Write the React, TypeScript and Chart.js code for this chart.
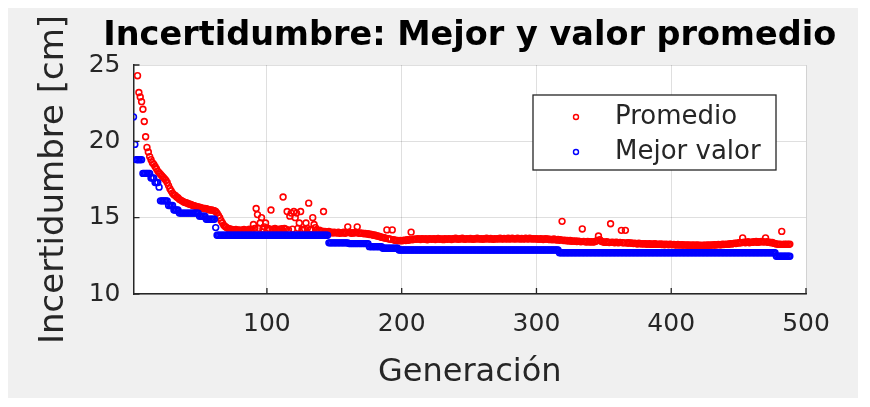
import React, { useEffect, useRef } from 'react';
import { Chart, registerables } from 'chart.js';

Chart.register(...registerables);

const chartTitle = 'Incertidumbre: Mejor y valor promedio';
const xAxisTitle = 'Generación';
const yAxisTitle = 'Incertidumbre [cm]';
const seriesNames = ['Promedio', 'Mejor valor'];
const seriesColors = ['#ff0000', '#0000ff'];
const xTicks = [100, 200, 300, 400, 500];
const yTicks = [10, 15, 20, 25];

// Promedio per generation (index 0 = generation 1); first values are above the axis limit
const promedio = [
  null, null, null, 24.3, 23.2, 22.9, 22.6, 22.1, 21.3, 20.3,
  19.6, 19.3, 19.0, 18.8, 18.6, 18.5, 18.35, 18.2, 18.05, 17.95,
  17.85, 17.75, 17.65, 17.55, 17.45, 17.3, 17.1, 16.9, 16.75, 16.6,
  16.5, 16.45, 16.35, 16.3, 16.2, 16.15, 16.1, 16.05, 16.0, 15.98,
  15.95, 15.9, 15.88, 15.85, 15.8, 15.78, 15.75, 15.72, 15.7, 15.68,
  15.65, 15.62, 15.6, 15.6, 15.58, 15.55, 15.52, 15.5, 15.5, 15.48,
  15.45, 15.4, 15.3, 15.15, 15.0, 14.8, 14.65, 14.5, 14.42, 14.36,
  14.3, 14.28, 14.25, 14.22, 14.2, 14.18, 14.22, 14.15, 14.2, 14.18,
  14.15, 14.2, 14.22, 14.18, 14.15, 14.2, 14.25, 14.18, 14.22, 14.55,
  14.3, 15.6, 15.2, 14.3, 14.65, 15.0, 14.25, 14.4, 14.65, 14.2,
  14.3, 14.22, 15.5, 14.25, 14.2, 14.3, 14.22, 14.18, 14.25, 14.2,
  14.28, 16.35, 14.3, 14.25, 15.4, 14.2, 15.1, 15.3, 14.25, 15.4,
  15.0, 15.3, 14.3, 14.65, 15.4, 14.22, 14.2, 14.25, 14.65, 14.3,
  15.95, 14.2, 14.25, 15.0, 14.55, 14.35, 14.2, 14.15, 14.18, 14.1,
  14.12, 15.4, 14.1, 14.08, 14.05, 14.1, 14.02, 14.05, 14.0, 14.05,
  14.02, 14.0, 14.05, 13.98, 14.02, 14.0, 14.05, 13.98, 14.02, 14.4,
  14.05, 14.0, 13.98, 14.02, 14.0, 14.05, 14.4, 13.98, 14.0, 13.97,
  13.98, 13.95, 13.97, 13.93, 13.95, 13.9, 13.92, 13.88, 13.85, 13.86,
  13.82, 13.8, 13.78, 13.75, 13.72, 13.7, 13.68, 13.65, 14.2, 13.62,
  13.6, 13.58, 14.2, 13.55, 13.52, 13.5, 13.5, 13.48, 13.5, 13.48,
  13.5, 13.52, 13.5, 13.55, 13.52, 13.55, 14.05, 13.55, 13.58, 13.6,
  13.58, 13.62, 13.6, 13.57, 13.63, 13.6, 13.58, 13.62, 13.55, 13.6,
  13.63, 13.58, 13.6, 13.62, 13.57, 13.6, 13.64, 13.58, 13.61, 13.6,
  13.56, 13.62, 13.6, 13.58, 13.63, 13.6, 13.57, 13.62, 13.6, 13.65,
  13.6, 13.58, 13.62, 13.6, 13.66, 13.6, 13.58, 13.63, 13.61, 13.6,
  13.64, 13.6, 13.58, 13.62, 13.6, 13.65, 13.61, 13.6, 13.63, 13.58,
  13.62, 13.6, 13.65, 13.61, 13.6, 13.64, 13.6, 13.58, 13.62, 13.6,
  13.63, 13.6, 13.66, 13.61, 13.6, 13.64, 13.62, 13.6, 13.65, 13.6,
  13.62, 13.66, 13.6, 13.63, 13.6, 13.65, 13.62, 13.6, 13.64, 13.61,
  13.6, 13.65, 13.62, 13.6, 13.66, 13.62, 13.6, 13.63, 13.6, 13.62,
  13.6, 13.58, 13.62, 13.6, 13.57, 13.6, 13.62, 13.58, 13.6, 13.56,
  13.58, 13.55, 13.6, 13.56, 13.54, 13.58, 13.52, 13.55, 14.76, 13.5,
  13.52, 13.48, 13.5, 13.47, 13.5, 13.46, 13.48, 13.45, 13.48, 13.44,
  13.46, 13.45, 13.42, 14.26, 13.45, 13.43, 13.4, 13.44, 13.42, 13.4,
  13.43, 13.4, 13.42, 13.45, 13.5, 13.8, 13.55, 13.45, 13.42, 13.4,
  13.38, 13.42, 13.4, 13.37, 14.6, 13.4, 13.38, 13.36, 13.4, 13.37,
  13.35, 13.38, 14.17, 13.36, 13.35, 14.17, 13.34, 13.36, 13.33, 13.35,
  13.32, 13.3, 13.33, 13.3, 13.28, 13.32, 13.3, 13.27, 13.3, 13.28,
  13.3, 13.26, 13.28, 13.3, 13.25, 13.28, 13.26, 13.3, 13.25, 13.27,
  13.25, 13.28, 13.24, 13.26, 13.23, 13.27, 13.25, 13.22, 13.26, 13.24,
  13.22, 13.25, 13.23, 13.2, 13.24, 13.22, 13.2, 13.23, 13.21, 13.2,
  13.22, 13.19, 13.21, 13.2, 13.18, 13.22, 13.2, 13.18, 13.21, 13.19,
  13.18, 13.2, 13.17, 13.19, 13.2, 13.18, 13.21, 13.19, 13.2, 13.22,
  13.2, 13.23, 13.21, 13.22, 13.25, 13.23, 13.22, 13.26, 13.24, 13.25,
  13.27, 13.25, 13.28, 13.3, 13.27, 13.3, 13.32, 13.3, 13.35, 13.33,
  13.38, 13.35, 13.67, 13.4, 13.36, 13.38, 13.42, 13.35, 13.4, 13.38,
  13.42, 13.4, 13.45, 13.38, 13.42, 13.4, 13.45, 13.42, 13.4, 13.67,
  13.42, 13.38, 13.4, 13.35, 13.38, 13.32, 13.3, 13.28, 13.27, 13.25,
  13.26, 14.1, 13.25, 13.27, 13.25, 13.26, 13.25, 13.27,
];

// Mejor valor per generation (index 0 = generation 1)
const mejorValor = [
  21.6, 19.8, 18.8, 18.8, 18.8, 18.8, 18.8, 17.9, 17.9, 17.9,
  17.9, 17.9, 17.9, 17.6, 17.6, 17.6, 17.3, 17.3, 17.3, 17.0,
  16.1, 16.1, 16.1, 16.1, 16.1, 16.1, 15.8, 15.8, 15.8, 15.8,
  15.5, 15.5, 15.5, 15.5, 15.3, 15.3, 15.3, 15.3, 15.3, 15.3,
  15.3, 15.3, 15.3, 15.3, 15.3, 15.3, 15.3, 15.3, 15.3, 15.1,
  15.1, 15.1, 15.1, 15.1, 14.9, 14.9, 14.9, 14.9, 14.9, 14.9,
  14.9, 14.35, 13.85, 13.85, 13.85, 13.85, 13.85, 13.85, 13.85, 13.85,
  13.85, 13.85, 13.85, 13.85, 13.85, 13.85, 13.85, 13.85, 13.85, 13.85,
  13.85, 13.85, 13.85, 13.85, 13.85, 13.85, 13.85, 13.85, 13.85, 13.85,
  13.85, 13.85, 13.85, 13.85, 13.85, 13.85, 13.85, 13.85, 13.85, 13.85,
  13.85, 13.85, 13.85, 13.85, 13.85, 13.85, 13.85, 13.85, 13.85, 13.85,
  13.85, 13.85, 13.85, 13.85, 13.85, 13.85, 13.85, 13.85, 13.85, 13.85,
  13.85, 13.85, 13.85, 13.85, 13.85, 13.85, 13.85, 13.85, 13.85, 13.85,
  13.85, 13.85, 13.85, 13.85, 13.85, 13.85, 13.85, 13.85, 13.85, 13.85,
  13.85, 13.85, 13.85, 13.85, 13.85, 13.35, 13.35, 13.35, 13.35, 13.35,
  13.35, 13.35, 13.35, 13.35, 13.35, 13.35, 13.35, 13.35, 13.35, 13.35,
  13.3, 13.3, 13.3, 13.3, 13.3, 13.3, 13.3, 13.3, 13.3, 13.3,
  13.3, 13.3, 13.3, 13.3, 13.3, 13.1, 13.1, 13.1, 13.1, 13.1,
  13.1, 13.1, 13.1, 13.1, 13.1, 13.0, 13.0, 13.0, 13.0, 13.0,
  13.0, 13.0, 13.0, 13.0, 13.0, 13.0, 13.0, 12.88, 12.88, 12.88,
  12.88, 12.88, 12.88, 12.88, 12.88, 12.88, 12.88, 12.88, 12.88, 12.88,
  12.88, 12.88, 12.88, 12.88, 12.88, 12.88, 12.88, 12.88, 12.88, 12.88,
  12.88, 12.88, 12.88, 12.88, 12.88, 12.88, 12.88, 12.88, 12.88, 12.88,
  12.88, 12.88, 12.88, 12.88, 12.88, 12.88, 12.88, 12.88, 12.88, 12.88,
  12.88, 12.88, 12.88, 12.88, 12.88, 12.88, 12.88, 12.88, 12.88, 12.88,
  12.88, 12.88, 12.88, 12.88, 12.88, 12.88, 12.88, 12.88, 12.88, 12.88,
  12.88, 12.88, 12.88, 12.88, 12.88, 12.88, 12.88, 12.88, 12.88, 12.88,
  12.88, 12.88, 12.88, 12.88, 12.88, 12.88, 12.88, 12.88, 12.88, 12.88,
  12.88, 12.88, 12.88, 12.88, 12.88, 12.88, 12.88, 12.88, 12.88, 12.88,
  12.88, 12.88, 12.88, 12.88, 12.88, 12.88, 12.88, 12.88, 12.88, 12.88,
  12.88, 12.88, 12.88, 12.88, 12.88, 12.88, 12.88, 12.88, 12.88, 12.88,
  12.88, 12.88, 12.88, 12.88, 12.88, 12.88, 12.7, 12.7, 12.7, 12.7,
  12.7, 12.7, 12.7, 12.7, 12.7, 12.7, 12.7, 12.7, 12.7, 12.7,
  12.7, 12.7, 12.7, 12.7, 12.7, 12.7, 12.7, 12.7, 12.7, 12.7,
  12.7, 12.7, 12.7, 12.7, 12.7, 12.7, 12.7, 12.7, 12.7, 12.7,
  12.7, 12.7, 12.7, 12.7, 12.7, 12.7, 12.7, 12.7, 12.7, 12.7,
  12.7, 12.7, 12.7, 12.7, 12.7, 12.7, 12.7, 12.7, 12.7, 12.7,
  12.7, 12.7, 12.7, 12.7, 12.7, 12.7, 12.7, 12.7, 12.7, 12.7,
  12.7, 12.7, 12.7, 12.7, 12.7, 12.7, 12.7, 12.7, 12.7, 12.7,
  12.7, 12.7, 12.7, 12.7, 12.7, 12.7, 12.7, 12.7, 12.7, 12.7,
  12.7, 12.7, 12.7, 12.7, 12.7, 12.7, 12.7, 12.7, 12.7, 12.7,
  12.7, 12.7, 12.7, 12.7, 12.7, 12.7, 12.7, 12.7, 12.7, 12.7,
  12.7, 12.7, 12.7, 12.7, 12.7, 12.7, 12.7, 12.7, 12.7, 12.7,
  12.7, 12.7, 12.7, 12.7, 12.7, 12.7, 12.7, 12.7, 12.7, 12.7,
  12.7, 12.7, 12.7, 12.7, 12.7, 12.7, 12.7, 12.7, 12.7, 12.7,
  12.7, 12.7, 12.7, 12.7, 12.7, 12.7, 12.7, 12.7, 12.7, 12.7,
  12.7, 12.7, 12.7, 12.7, 12.7, 12.7, 12.7, 12.7, 12.7, 12.7,
  12.7, 12.7, 12.7, 12.7, 12.7, 12.7, 12.7, 12.47, 12.47, 12.47,
  12.47, 12.47, 12.47, 12.47, 12.47, 12.47, 12.47, 12.47,
];

const FONT = 'DejaVu Sans';
const TEXT = '#262626';
const GRID = 'rgba(38,38,38,0.15)';

const toPoints = (arr: (number | null)[]) =>
  arr
    .map((v, i) => (v === null ? null : { x: i + 1, y: v }))
    .filter((p) => p !== null) as { x: number; y: number }[];

const decor = {
  id: 'decor',
  beforeDraw(chart: any) {
    const { ctx, chartArea: a } = chart;
    ctx.save();
    ctx.fillStyle = '#ffffff';
    ctx.fillRect(a.left, a.top, a.right - a.left, a.bottom - a.top);
    ctx.restore();
  },
  afterDraw(chart: any) {
    const { ctx, chartArea: a, scales } = chart;
    ctx.save();
    // inward tick marks
    ctx.strokeStyle = TEXT;
    ctx.lineWidth = 1.3;
    ctx.beginPath();
    for (const v of xTicks) {
      const px = scales.x.getPixelForValue(v);
      ctx.moveTo(px, a.bottom);
      ctx.lineTo(px, a.bottom - 6);
    }
    for (const v of yTicks) {
      const py = scales.y.getPixelForValue(v);
      ctx.moveTo(a.left, py);
      ctx.lineTo(a.left + 6, py);
    }
    ctx.stroke();

    // title
    ctx.fillStyle = '#000000';
    ctx.font = `bold 33.5px "${FONT}"`;
    ctx.textAlign = 'center';
    ctx.textBaseline = 'middle';
    ctx.fillText(chartTitle, (a.left + a.right) / 2, 28);

    // y-axis title
    ctx.save();
    ctx.translate(46, (a.top + a.bottom) / 2);
    ctx.rotate(-Math.PI / 2);
    ctx.fillStyle = TEXT;
    ctx.font = `34px "${FONT}"`;
    ctx.fillText(yAxisTitle, 0, 0);
    ctx.restore();

    // legend
    const bw = 243;
    const bh = 75;
    const bx = a.right - 30 - bw;
    const by = a.top + 30;
    ctx.fillStyle = '#ffffff';
    ctx.fillRect(bx, by, bw, bh);
    ctx.strokeStyle = TEXT;
    ctx.lineWidth = 1.3;
    ctx.strokeRect(bx, by, bw, bh);
    ctx.font = `26px "${FONT}"`;
    ctx.textAlign = 'left';
    ctx.textBaseline = 'middle';
    chart.data.datasets.forEach((ds: any, i: number) => {
      const cy = by + 22 + i * 35;
      ctx.beginPath();
      ctx.arc(bx + 43, cy, 2.5, 0, Math.PI * 2);
      ctx.strokeStyle = ds.borderColor;
      ctx.lineWidth = 1.4;
      ctx.stroke();
      ctx.fillStyle = TEXT;
      ctx.fillText(ds.label, bx + 82, cy);
    });
    ctx.restore();
  },
};

export default function App() {
  const ref = useRef<HTMLCanvasElement | null>(null);

  useEffect(() => {
    if (!ref.current) return;
    const chart = new Chart(ref.current, {
      type: 'scatter',
      data: {
        datasets: [
          {
            label: seriesNames[0],
            data: toPoints(promedio),
            borderColor: seriesColors[0],
            backgroundColor: 'rgba(0,0,0,0)',
            pointRadius: 2.9,
            pointBorderWidth: 1.6,
            showLine: false,
            order: 2,
          },
          {
            label: seriesNames[1],
            data: toPoints(mejorValor),
            borderColor: seriesColors[1],
            backgroundColor: 'rgba(0,0,0,0)',
            pointRadius: 2.9,
            pointBorderWidth: 1.6,
            showLine: false,
            order: 1,
          },
        ],
      },
      options: {
        responsive: false,
        animation: false,
        layout: { padding: { top: 57, right: 52, left: 0, bottom: 0 } },
        plugins: {
          legend: { display: false },
          title: { display: false },
          tooltip: { enabled: false },
        },
        scales: {
          x: {
            type: 'linear',
            min: 1,
            max: 500,
            afterBuildTicks: (s: any) => {
              s.ticks = xTicks.map((v) => ({ value: v }));
            },
            afterFit: (s: any) => {
              s.height = 104;
            },
            ticks: {
              font: { family: FONT, size: 25 },
              color: TEXT,
              padding: 15,
              maxRotation: 0,
              autoSkip: false,
            },
            grid: { color: GRID, drawTicks: false, lineWidth: 1 },
            border: { display: true, color: TEXT, width: 1.5 },
            title: {
              display: true,
              text: xAxisTitle,
              font: { family: FONT, size: 32 },
              color: TEXT,
              padding: { top: 0, bottom: 6 },
            },
          },
          y: {
            type: 'linear',
            min: 10,
            max: 25,
            afterBuildTicks: (s: any) => {
              s.ticks = yTicks.map((v) => ({ value: v }));
            },
            afterFit: (s: any) => {
              s.width = 125.5;
            },
            ticks: {
              font: { family: FONT, size: 25 },
              color: TEXT,
              padding: 13,
            },
            grid: { color: GRID, drawTicks: false, lineWidth: 1 },
            border: { display: true, color: TEXT, width: 1.5 },
          },
        },
      },
      plugins: [decor],
    } as any);
    return () => chart.destroy();
  }, []);

  return (
    <div style={{ width: 850, height: 390, background: '#f0f0f0', position: 'relative' }}>
      <canvas ref={ref} width={850} height={390} style={{ display: 'block' }} />
    </div>
  );
}
